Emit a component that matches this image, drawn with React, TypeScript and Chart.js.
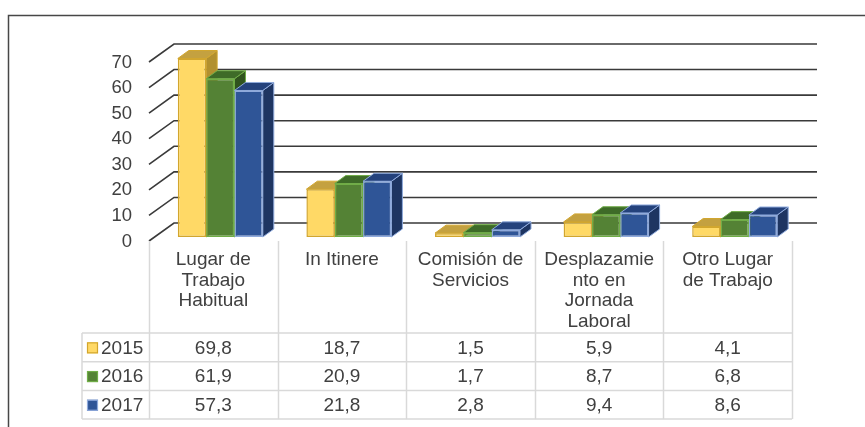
import React, { useEffect, useRef } from 'react';
import { Chart, registerables } from 'chart.js';

Chart.register(...registerables);

// ---------- data ----------
const categories: string[][] = [
  ['Lugar de', 'Trabajo', 'Habitual'],
  ['In Itinere'],
  ['Comisión de', 'Servicios'],
  ['Desplazamie', 'nto en', 'Jornada', 'Laboral'],
  ['Otro Lugar', 'de Trabajo'],
];
const seriesNames = ['2015', '2016', '2017'];
const values2015 = [69.8, 18.7, 1.5, 5.9, 4.1];
const values2016 = [61.9, 20.9, 1.7, 8.7, 6.8];
const values2017 = [57.3, 21.8, 2.8, 9.4, 8.6];
const yTicks = [0, 10, 20, 30, 40, 50, 60, 70];

// ---------- styles ----------
const frontColors = ['#FFD966', '#548235', '#2F5597'];
const borderColors = ['#D2A62E', '#70AD47', '#8FAADC'];
const topColors = ['#C4A140', '#3E6B28', '#24427C'];
const sideColors = ['#B2902F', '#30531E', '#1E3562'];
const FONT = '19px "Liberation Sans", Arial, sans-serif';
const TEXT = '#404040';
const TABLE_LINE = '#D9D9D9';

// 3D geometry (pixels)
const DEPTH_X = 11, DEPTH_Y = 8;
const FRONT_DX = -7, FRONT_DY = 4;
const BACK_DX = 18, BACK_DY = -14;

const fmt = (v: number) => v.toFixed(1).replace('.', ',');

const threeDPlugin = {
  id: 'threeD',
  beforeDatasetsDraw(chart: any) {
    const { ctx, chartArea } = chart;
    const y = chart.scales.y;
    ctx.save();
    // back wall grid + diagonal side lines
    ctx.strokeStyle = '#3A3A3A';
    ctx.lineWidth = 1.6;
    for (const v of yTicks) {
      const py = y.getPixelForValue(v);
      ctx.beginPath();
      ctx.moveTo(chartArea.left + FRONT_DX, py + FRONT_DY);
      ctx.lineTo(chartArea.left + BACK_DX, py + BACK_DY);
      ctx.lineTo(chartArea.right + BACK_DX, py + BACK_DY);
      ctx.stroke();
    }
    // bars, left to right, with top and side faces
    const metas = chart.data.datasets.map((_: any, i: number) => chart.getDatasetMeta(i));
    const n = chart.data.labels.length;
    for (let j = 0; j < n; j++) {
      for (let i = 0; i < metas.length; i++) {
        const el = metas[i].data[j];
        const left = el.x - el.width / 2;
        const right = el.x + el.width / 2;
        const top = el.y;
        const base = el.base;
        ctx.lineWidth = 1;
        ctx.strokeStyle = borderColors[i];
        // side
        ctx.beginPath();
        ctx.moveTo(right, top);
        ctx.lineTo(right + DEPTH_X, top - DEPTH_Y);
        ctx.lineTo(right + DEPTH_X, base - DEPTH_Y);
        ctx.lineTo(right, base);
        ctx.closePath();
        ctx.fillStyle = sideColors[i];
        ctx.fill();
        ctx.stroke();
        // top
        ctx.beginPath();
        ctx.moveTo(left, top);
        ctx.lineTo(right, top);
        ctx.lineTo(right + DEPTH_X, top - DEPTH_Y);
        ctx.lineTo(left + DEPTH_X, top - DEPTH_Y);
        ctx.closePath();
        ctx.fillStyle = topColors[i];
        ctx.fill();
        ctx.stroke();
        // front face drawn by the library element
        el.draw(ctx);
      }
    }
    ctx.restore();
    return false;
  },
  afterDraw(chart: any) {
    const { ctx } = chart;
    const x = chart.scales.x;
    const y = chart.scales.y;
    const n = categories.length;
    const cw = x.getPixelForValue(1) - x.getPixelForValue(0);
    const edge = (k: number) => x.getPixelForValue(0) - cw / 2 + k * cw + FRONT_DX;
    const floorY = y.getPixelForValue(0) + FRONT_DY;
    const headerBottom = floorY + 92;
    const rowH = 28.7;
    const tableBottom = headerBottom + rowH * 3;
    const tableLeft = edge(0) - 67;
    const series = [values2015, values2016, values2017];

    ctx.save();
    // table lines
    ctx.strokeStyle = TABLE_LINE;
    ctx.lineWidth = 1.5;
    for (let k = 0; k <= n; k++) {
      const ex = Math.round(edge(k)) + 0.5;
      ctx.beginPath();
      ctx.moveTo(ex, floorY);
      ctx.lineTo(ex, tableBottom);
      ctx.stroke();
    }
    ctx.beginPath();
    ctx.moveTo(tableLeft, headerBottom);
    ctx.lineTo(tableLeft, tableBottom);
    ctx.stroke();
    for (let r = 0; r <= 3; r++) {
      const ry = headerBottom + r * rowH;
      ctx.beginPath();
      ctx.moveTo(tableLeft, ry);
      ctx.lineTo(edge(n), ry);
      ctx.stroke();
    }

    // header labels
    ctx.fillStyle = TEXT;
    ctx.font = FONT;
    ctx.textAlign = 'center';
    ctx.textBaseline = 'alphabetic';
    categories.forEach((lines, k) => {
      const cx = (edge(k) + edge(k + 1)) / 2;
      lines.forEach((line, li) => {
        ctx.fillText(line, cx, floorY + 24 + li * 20.7);
      });
    });

    // values + legend
    ctx.textBaseline = 'middle';
    series.forEach((vals, r) => {
      const cy = headerBottom + r * rowH + rowH / 2 + 1;
      vals.forEach((v, k) => {
        const cx = (edge(k) + edge(k + 1)) / 2;
        ctx.textAlign = 'center';
        ctx.fillStyle = TEXT;
        ctx.fillText(fmt(v), cx, cy);
      });
      // legend key
      const sx = tableLeft + 5;
      const sy = cy - 6;
      ctx.fillStyle = frontColors[r];
      ctx.fillRect(sx, sy, 11, 11);
      ctx.strokeStyle = borderColors[r];
      ctx.lineWidth = 1.2;
      ctx.strokeRect(sx + 0.5, sy + 0.5, 10, 10);
      ctx.fillStyle = TEXT;
      ctx.textAlign = 'left';
      ctx.fillText(seriesNames[r], tableLeft + 19, cy);
    });

    // outer frame
    ctx.strokeStyle = '#474747';
    ctx.lineWidth = 1.5;
    ctx.beginPath();
    ctx.moveTo(8.5, chart.height);
    ctx.lineTo(8.5, 15.5);
    ctx.lineTo(chart.width, 15.5);
    ctx.stroke();
    ctx.restore();
  },
};

export default function App() {
  const canvasRef = useRef<HTMLCanvasElement | null>(null);

  useEffect(() => {
    const canvas = canvasRef.current;
    if (!canvas) return;
    const series = [values2015, values2016, values2017];
    const chart = new Chart(canvas, {
      type: 'bar',
      data: {
        labels: categories.map((c) => c.join(' ')),
        datasets: series.map((vals, i) => ({
          label: seriesNames[i],
          data: vals,
          backgroundColor: frontColors[i],
          borderColor: borderColors[i],
          borderWidth: 1.5,
          borderSkipped: false,
          categoryPercentage: 0.661,
          barPercentage: 1,
        })),
      },
      options: {
        responsive: false,
        animation: false,
        devicePixelRatio: 1,
        layout: { padding: { left: 76, right: 66, top: 58, bottom: 190 } },
        plugins: { legend: { display: false }, tooltip: { enabled: false } },
        scales: {
          x: { display: false },
          y: {
            min: 0,
            max: 70,
            afterFit: (scale: any) => {
              scale.width = 80;
            },
            afterBuildTicks: (scale: any) => {
              scale.ticks = yTicks.map((v) => ({ value: v }));
            },
            grid: { display: false, drawTicks: false },
            border: { display: false },
            ticks: {
              padding: 24,
              labelOffset: 4.5,
              color: TEXT,
              font: { family: '"Liberation Sans", Arial, sans-serif', size: 18.5 },
            },
          },
        },
      },
      plugins: [threeDPlugin],
    } as any);
    return () => chart.destroy();
  }, []);

  return (
    <div style={{ position: 'absolute', left: 0, top: 0, width: 865, height: 427, background: '#fff' }}>
      <canvas ref={canvasRef} width={865} height={427} style={{ display: 'block' }} />
    </div>
  );
}
